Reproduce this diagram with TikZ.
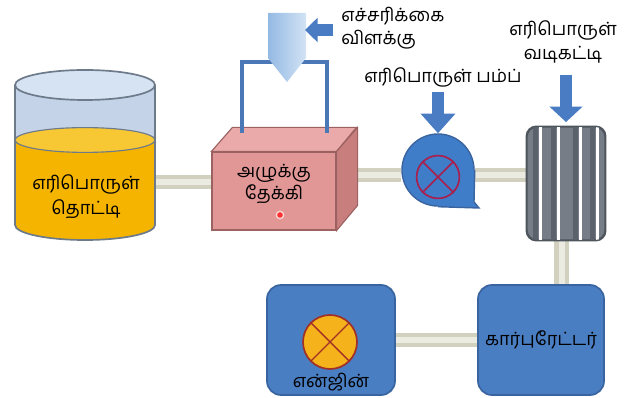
\documentclass[tikz,border=0pt]{standalone}
\usepackage{fontspec}
\newfontfamily\tamil[Script=Tamil]{Hind Madurai}
\usetikzlibrary{positioning,arrows.meta,backgrounds}

\definecolor{tankglass}{HTML}{C4D3E8}
\definecolor{tanklid}{HTML}{D5E3F2}
\definecolor{tankedge}{HTML}{6D7A8A}
\definecolor{fuel}{HTML}{F4B400}
\definecolor{fueltop}{HTML}{F7C734}
\definecolor{boxfront}{HTML}{E29797}
\definecolor{boxtop}{HTML}{EAAAAA}
\definecolor{boxside}{HTML}{C97E7E}
\definecolor{boxedge}{HTML}{9C6262}
\definecolor{wireblue}{HTML}{4A78B6}
\definecolor{arrowblue}{HTML}{4A7CC4}
\definecolor{lampdark}{HTML}{94B9E4}
\definecolor{lamplight}{HTML}{D2E3F4}
\definecolor{unitblue}{HTML}{4A7EC2}
\definecolor{unitedge}{HTML}{3A64A0}
\definecolor{pumpblue}{HTML}{3F7DC9}
\definecolor{rotorred}{HTML}{A8204E}
\definecolor{filtergray}{HTML}{767D86}
\definecolor{filterdark}{HTML}{5B626B}
\definecolor{filteredge}{HTML}{4F555C}
\definecolor{pipegray}{HTML}{D2D1BF}
\definecolor{pipelight}{HTML}{EBEBE1}
\definecolor{wheelgold}{HTML}{F5B21A}
\definecolor{wheeledge}{HTML}{A03028}

\tikzset{
  pipe/.style={line width=10.5pt, draw=pipegray, postaction={draw=pipelight, line width=4pt}},
  tlabel/.style={font=\tamil\fontsize{13}{18}\selectfont, align=center, inner sep=0pt},
  unitbox/.style={draw=unitedge, fill=unitblue, line width=1.2pt, rounded corners=10pt},
  feedarrow/.style={draw=arrowblue, line width=8.5pt, -{Triangle[length=14pt,width=24pt]}},
  wire/.style={draw=wireblue, line width=2.4pt},
}

\begin{document}
\begin{tikzpicture}[x=0.025cm, y=-0.025cm]
\useasboundingbox (0,0) rectangle (637,398);

% fuel tank
\fill[tankglass] (15,85) rectangle (155,140);
\fill[fuel] (15,140) rectangle (155,225);
\fill[fuel] (85,225) ellipse[x radius=1.75cm, y radius=0.375cm];
\filldraw[fill=fueltop, draw=tankedge, line width=0.8pt] (85,140) ellipse[x radius=1.75cm, y radius=0.31cm];
\filldraw[fill=tanklid, draw=tankedge, line width=1.2pt] (85,85) ellipse[x radius=1.75cm, y radius=0.375cm];
\draw[tankedge, line width=1.2pt] (15,85) -- (15,225) arc[start angle=180, end angle=360, x radius=1.75cm, y radius=0.375cm] -- (155,85);
\node[tlabel] (tank) at (86,197) {எரிபொருள்\\தொட்டி};

% sediment bowl
\node[draw=boxedge, fill=boxfront, line width=0.8pt, minimum width=3.1cm, minimum height=1.95cm] (box) at (274,191) {};
\filldraw[fill=boxtop, draw=boxedge, line width=0.8pt] (box.north west) -- ++(21,-24) -- ++(124,0) -- (box.north east) -- cycle;
\filldraw[fill=boxside, draw=boxedge, line width=0.8pt] (box.north east) -- ++(21,-24) -- ++(0,78) -- (box.south east) -- cycle;
\node[tlabel] at ([yshift=5pt]box.center) {அழுக்கு\\[-3pt]தேக்கி};
\filldraw[fill=red!75!pink, draw=pink!70, line width=1pt] (280,215) circle[radius=2.6pt];

% warning lamp
\draw[wire] (242,133) -- (242,62) -- (327,62) -- (327,133);
\shade[left color=lampdark, right color=lamplight] (268,13) -- (306,13) -- (306,58) -- (287,82) -- (268,58) -- cycle;
\coordinate (lampfeed) at (333,30);
\coordinate (lamp) at (305,30);
\draw[feedarrow, -{Triangle[length=9pt,width=17pt]}] (lampfeed) -- (lamp);
\node[tlabel, anchor=west, align=left] at (341,28) {எச்சரிக்கை\\[-2pt]விளக்கு};

% fuel pump
\node[circle, draw=unitedge, fill=pumpblue, line width=1pt, minimum size=1.8cm] (pump) at (438,170) {};
\fill[pumpblue] (pump.center) -- (pump.east) -- (474,202) -- (479,208) -- (pump.south) -- cycle;
\draw[unitedge, line width=1pt] (pump.east) -- (474,202) -- (479,208) -- (pump.south);
\node[circle, draw=rotorred, fill=pumpblue, line width=1.2pt, minimum size=1.07cm] (impeller) at (438,177) {};
\draw[rotorred, line width=1.2pt] (impeller.45) -- (impeller.225) (impeller.135) -- (impeller.315);
\coordinate (pumpfeed) at (438,92);
\draw[feedarrow] (pumpfeed) -- (pump.north);
\node[tlabel] at (443,77) {எரிபொருள் பம்ப்};

% fuel filter
\node[draw=filteredge, fill=filtergray, line width=1pt, rounded corners=7pt, minimum width=1.95cm, minimum height=2.825cm] (filter) at (566,183.5) {};
\begin{scope}
  \clip[rounded corners=7pt] (filter.south west) rectangle (filter.north east);
  \foreach \s in {533,551,573,590} {
    \fill[filterdark] (\s,120) rectangle ++(5,130);
    \fill[white] (\s+5.5,120) rectangle ++(3,130);
  }
\end{scope}
\draw[filteredge, line width=1pt, rounded corners=7pt] (filter.south west) rectangle (filter.north east);
\coordinate (filterfeed) at (566,75);
\draw[feedarrow, -{Triangle[length=11pt,width=23pt]}] (filterfeed) -- ([yshift=3pt]filter.north);
\node[tlabel] at (563,42) {எரிபொருள்\\[-1pt]வடிகட்டி};

% carburettor and engine
\node[unitbox, minimum width=3.15cm, minimum height=2.75cm, tlabel] (carb) at (541,340) {கார்புரேட்டர்};
\node[unitbox, minimum width=3.2cm, minimum height=2.75cm] (engine) at (331,340) {};
\node[circle, draw=wheeledge, fill=wheelgold, line width=1.2pt, minimum size=1.35cm] (wheel) at (330,342) {};
\draw[wheeledge, line width=1pt] (wheel.45) -- (wheel.225) (wheel.135) -- (wheel.315);
\node[tlabel] at (331,382) {என்ஜின்};

% pipes
\coordinate (tankline) at (0,182);
\coordinate (mainline) at (0,175);
\begin{scope}[on background layer]
  \draw[pipe] (tank.east |- tankline) -- (box.west |- tankline);
  \draw[pipe] (box.east |- mainline) -- (pump.west |- mainline);
  \draw[pipe] (pump.east |- mainline) -- (filter.west |- mainline);
  \draw[pipe] ([xshift=-3pt]filter.south) -- ([xshift=-3pt]filter.south |- carb.north);
  \draw[pipe] (carb.west) -- (engine.east);
\end{scope}
\end{tikzpicture}
\end{document}
